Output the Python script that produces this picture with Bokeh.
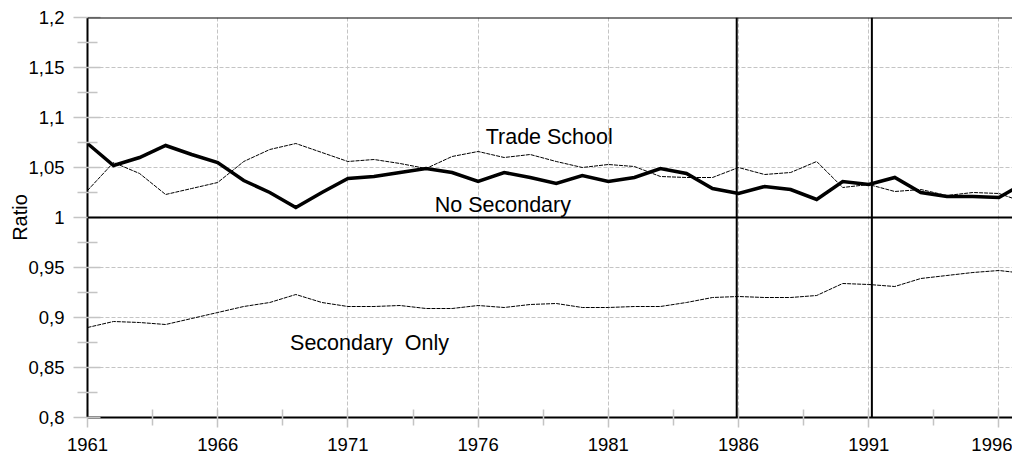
from bokeh.plotting import figure
from bokeh.models import Range1d, FixedTicker, Span
from bokeh.embed import file_html
from bokeh.resources import INLINE
from bokeh.core.properties import value

years = list(range(1961, 1998))
no_secondary = [1.074, 1.052, 1.060, 1.072, 1.063, 1.055, 1.037, 1.025, 1.010, 1.025,
                1.039, 1.041, 1.045, 1.049, 1.045, 1.036, 1.045, 1.040, 1.034, 1.042,
                1.036, 1.040, 1.049, 1.044, 1.029, 1.024, 1.031, 1.028, 1.018, 1.036,
                1.033, 1.040, 1.025, 1.021, 1.021, 1.020, 1.035]
trade_school = [1.027, 1.055, 1.044, 1.023, 1.029, 1.035, 1.056, 1.068, 1.074, 1.065,
                1.056, 1.058, 1.054, 1.049, 1.061, 1.066, 1.060, 1.063, 1.056, 1.050,
                1.053, 1.051, 1.041, 1.040, 1.040, 1.050, 1.043, 1.045, 1.056, 1.030,
                1.033, 1.026, 1.028, 1.022, 1.025, 1.024, 1.015]
secondary_only = [0.890, 0.896, 0.895, 0.893, 0.899, 0.905, 0.911, 0.915, 0.923, 0.915,
                  0.911, 0.911, 0.912, 0.909, 0.909, 0.912, 0.910, 0.913, 0.914, 0.910,
                  0.910, 0.911, 0.911, 0.915, 0.920, 0.921, 0.920, 0.920, 0.922, 0.934,
                  0.933, 0.931, 0.939, 0.942, 0.945, 0.947, 0.944]

x_ticks = [1961, 1966, 1971, 1976, 1981, 1986, 1991, 1996]
x_tick_labels = ["1961", "1966", "1971", "1976", "1981", "1986", "1991", "1996"]
y_ticks = [0.8, 0.85, 0.9, 0.95, 1.0, 1.05, 1.1, 1.15, 1.2]
y_tick_labels = ["0,8", "0,85", "0,9", "0,95", "1", "1,05", "1,1", "1,15", "1,2"]
series_names = ["Trade School", "No Secondary", "Secondary\u00a0\u00a0Only"]

FONT = "Liberation Sans"
GRID = "#c4c4c4"

p = figure(width=1012, height=458, x_range=Range1d(1961, 1996.52), y_range=Range1d(0.8, 1.2),
           output_backend="svg", toolbar_location=None,
           min_border_left=87, min_border_right=0, min_border_top=17, min_border_bottom=41)
p.outline_line_color = None
p.background_fill_color = "white"
p.border_fill_color = "white"

# axes
p.xaxis.ticker = FixedTicker(ticks=x_ticks, minor_ticks=[t + 2.5 for t in x_ticks])
p.xaxis.major_label_overrides = {t: l for t, l in zip(x_ticks, x_tick_labels)}
p.yaxis.ticker = FixedTicker(ticks=y_ticks, minor_ticks=[t + 0.025 for t in y_ticks[:-1]])
p.yaxis.major_label_overrides = {t: l for t, l in zip(y_ticks, y_tick_labels)}
p.yaxis.axis_label = "Ratio"
p.yaxis.axis_label_standoff = -6
p.yaxis.axis_label_text_font = FONT
p.yaxis.axis_label_text_font_size = "20px"
p.yaxis.axis_label_text_font_style = "normal"
p.yaxis.axis_label_text_color = "black"
for ax in (p.xaxis, p.yaxis):
    ax.axis_line_color = "black"
    ax.axis_line_width = 2
    ax.major_tick_line_color = GRID
    ax.minor_tick_line_color = GRID
    ax.major_tick_line_width = 1.5
    ax.minor_tick_line_width = 1.5
    ax.major_label_text_font = FONT
    ax.major_label_text_font_size = "18.5px"
    ax.major_label_text_color = "black"
p.yaxis.major_tick_out = 14
p.yaxis.major_tick_in = 13
p.yaxis.minor_tick_out = 10
p.yaxis.minor_tick_in = 10
p.yaxis.major_label_standoff = 9
p.xaxis.major_tick_out = 10
p.xaxis.major_tick_in = 8
p.xaxis.minor_tick_out = 8
p.xaxis.minor_tick_in = 8
p.xaxis.major_label_standoff = 10

for g in (p.xgrid, p.ygrid):
    g.grid_line_color = GRID
    g.grid_line_dash = "4 2"
    g.grid_line_width = 1

# reference lines
p.add_layout(Span(location=1.2, dimension="width", line_color="black", line_width=2))
p.add_layout(Span(location=1.0, dimension="width", line_color="black", line_width=2))
p.add_layout(Span(location=1985.93, dimension="height", line_color="black", line_width=2))
p.add_layout(Span(location=1991.12, dimension="height", line_color="black", line_width=2))

# series
p.line(years, secondary_only, line_color="black", line_width=1, line_dash="4 1")
p.line(years, trade_school, line_color="black", line_width=1, line_dash="4 1")
p.line(years, no_secondary, line_color="black", line_width=3.5, line_join="miter")

# series labels
p.text(x=[1978.73, 1976.95, 1971.83], y=[1.0807, 1.013, 0.8747], text=series_names,
       text_font=value(FONT), text_font_size="21.5px", text_align="center",
       text_baseline="alphabetic", text_color="black")

open("out.html", "w").write(file_html(p, INLINE))
